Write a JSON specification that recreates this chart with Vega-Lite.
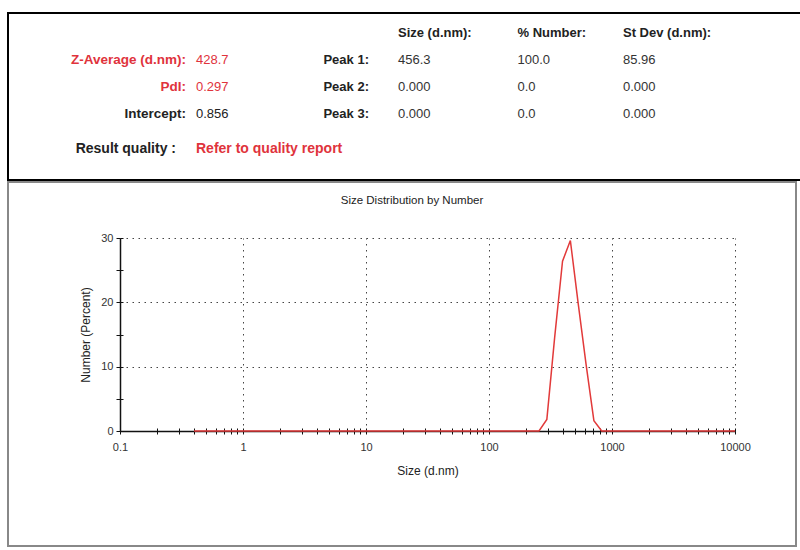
{
  "$schema": "https://vega.github.io/schema/vega-lite/v6.json",
  "padding": {"left": 7, "top": 12, "right": 0, "bottom": 0},
  "spacing": 0,
  "background": "white",
  "config": {"font": "Liberation Sans", "text": {"font": "Liberation Sans", "baseline": "middle"}},
  "datasets": {
    "columns": [
      {"col": "size", "title": "Size (d.nm):", "line": "header"},
      {"col": "number", "title": "% Number:", "line": "header"},
      {"col": "stdev", "title": "St Dev (d.nm):", "line": "header"}
    ],
    "peaks": [
      {"peak": "Peak 1:", "size": "456.3", "number": "100.0", "stdev": "85.96", "line": "1"},
      {"peak": "Peak 2:", "size": "0.000", "number": "0.0", "stdev": "0.000", "line": "2"},
      {"peak": "Peak 3:", "size": "0.000", "number": "0.0", "stdev": "0.000", "line": "3"}
    ],
    "summary": [
      {"label": "Z-Average (d.nm):", "value": "428.7", "flag": "warning", "line": "1"},
      {"label": "PdI:", "value": "0.297", "flag": "warning", "line": "2"},
      {"label": "Intercept:", "value": "0.856", "flag": "normal", "line": "3"}
    ],
    "quality": [
      {"label": "Result quality :", "value": "Refer to quality report", "line": "quality"}
    ],
    "distribution": [
      {"size": 0.4, "number": 0}, {"size": 0.4632, "number": 0}, {"size": 0.5365, "number": 0},
      {"size": 0.6213, "number": 0}, {"size": 0.7195, "number": 0}, {"size": 0.8332, "number": 0},
      {"size": 0.9649, "number": 0}, {"size": 1.117, "number": 0}, {"size": 1.294, "number": 0},
      {"size": 1.499, "number": 0}, {"size": 1.736, "number": 0}, {"size": 2.01, "number": 0},
      {"size": 2.328, "number": 0}, {"size": 2.696, "number": 0}, {"size": 3.122, "number": 0},
      {"size": 3.615, "number": 0}, {"size": 4.187, "number": 0}, {"size": 4.849, "number": 0},
      {"size": 5.615, "number": 0}, {"size": 6.503, "number": 0}, {"size": 7.531, "number": 0},
      {"size": 8.721, "number": 0}, {"size": 10.1, "number": 0}, {"size": 11.7, "number": 0},
      {"size": 13.54, "number": 0}, {"size": 15.69, "number": 0}, {"size": 18.17, "number": 0},
      {"size": 21.04, "number": 0}, {"size": 24.36, "number": 0}, {"size": 28.21, "number": 0},
      {"size": 32.67, "number": 0}, {"size": 37.84, "number": 0}, {"size": 43.82, "number": 0},
      {"size": 50.75, "number": 0}, {"size": 58.77, "number": 0}, {"size": 68.06, "number": 0},
      {"size": 78.82, "number": 0}, {"size": 91.28, "number": 0}, {"size": 105.7, "number": 0},
      {"size": 122.4, "number": 0}, {"size": 141.8, "number": 0}, {"size": 164.2, "number": 0},
      {"size": 190.1, "number": 0}, {"size": 220.2, "number": 0}, {"size": 255, "number": 0},
      {"size": 295.3, "number": 1.8}, {"size": 342, "number": 14.6}, {"size": 396.1, "number": 26.4},
      {"size": 458.7, "number": 29.6}, {"size": 531.2, "number": 19.8}, {"size": 615.1, "number": 10.4},
      {"size": 712.4, "number": 1.6}, {"size": 825, "number": 0}, {"size": 955.4, "number": 0},
      {"size": 1106, "number": 0}, {"size": 1281, "number": 0}, {"size": 1484, "number": 0},
      {"size": 1718, "number": 0}, {"size": 1990, "number": 0}, {"size": 2305, "number": 0},
      {"size": 2669, "number": 0}, {"size": 3091, "number": 0}, {"size": 3580, "number": 0},
      {"size": 4145, "number": 0}, {"size": 4801, "number": 0}, {"size": 5560, "number": 0},
      {"size": 6439, "number": 0}, {"size": 7456, "number": 0}, {"size": 8635, "number": 0},
      {"size": 10000, "number": 0}
    ]
  },
  "vconcat": [
    {
      "width": 800,
      "height": 167,
      "view": {"stroke": "#000000", "strokeWidth": 2},
      "encoding": {
        "y": {"field": "line", "type": "nominal", "axis": null,
              "scale": {"type": "point", "domain": ["header", "1", "2", "3", "quality"], "range": [20, 128], "padding": 0}}
      },
      "layer": [
        {
          "data": {"name": "columns"},
          "mark": {"type": "text", "align": "left", "fontWeight": "bold", "fontSize": 13, "color": "#222222",
                   "dx": {"expr": "datum.col === 'number' ? 7 : 0"}},
          "encoding": {
            "x": {"field": "col", "type": "nominal", "axis": null,
                  "scale": {"type": "point", "domain": ["size", "number", "stdev"], "range": [390, 615], "padding": 0}},
            "text": {"field": "title"}
          }
        },
        {
          "data": {"name": "peaks"},
          "transform": [{"fold": ["size", "number", "stdev"], "as": ["col", "val"]}],
          "mark": {"type": "text", "align": "left", "fontSize": 13, "color": "#333333",
                   "dx": {"expr": "datum.col === 'number' ? 7 : 0"}},
          "encoding": {
            "x": {"field": "col", "type": "nominal", "axis": null},
            "text": {"field": "val"}
          }
        },
        {
          "data": {"name": "peaks"},
          "mark": {"type": "text", "align": "right", "fontWeight": "bold", "fontSize": 13, "color": "#222222", "dx": -29},
          "encoding": {
            "x": {"datum": "size", "type": "nominal", "axis": null},
            "text": {"field": "peak"}
          }
        },
        {
          "data": {"name": "summary"},
          "mark": {"type": "text", "align": "right", "fontWeight": "bold", "fontSize": 13.5, "dx": -212},
          "encoding": {
            "x": {"datum": "size", "type": "nominal", "axis": null},
            "text": {"field": "label"},
            "color": {"field": "flag", "type": "nominal", "legend": null,
                      "scale": {"domain": ["warning", "normal"], "range": ["#e0333c", "#222222"]}}
          }
        },
        {
          "data": {"name": "summary"},
          "mark": {"type": "text", "align": "left", "fontSize": 13, "dx": -202},
          "encoding": {
            "x": {"datum": "size", "type": "nominal", "axis": null},
            "text": {"field": "value"},
            "color": {"field": "flag", "type": "nominal", "legend": null}
          }
        },
        {
          "data": {"name": "quality"},
          "mark": {"type": "text", "align": "right", "fontWeight": "bold", "fontSize": 14, "color": "#222222", "dx": -222, "dy": 8},
          "encoding": {
            "x": {"datum": "size", "type": "nominal", "axis": null},
            "text": {"field": "label"}
          }
        },
        {
          "data": {"name": "quality"},
          "mark": {"type": "text", "align": "left", "fontWeight": "bold", "fontSize": 14, "color": "#e0333c", "dx": -202, "dy": 8},
          "encoding": {
            "x": {"datum": "size", "type": "nominal", "axis": null},
            "text": {"field": "value"}
          }
        }
      ]
    },
    {
      "width": 788,
      "height": 364,
      "view": {"stroke": "#888888", "strokeWidth": 2},
      "title": {"text": "Size Distribution by Number", "fontSize": 11.5, "fontWeight": "normal", "color": "#222222", "offset": -24, "dx": 10},
      "data": {"name": "distribution"},
      "resolve": {"axis": {"x": "independent", "y": "independent"}},
      "layer": [
        {
          "mark": {"type": "line", "strokeOpacity": 0},
          "encoding": {
            "x": {
              "field": "size", "type": "quantitative",
              "scale": {"type": "log", "domain": [0.1, 10000], "range": [112, 727], "nice": false},
              "axis": {
                "orient": "top", "offset": 0,
                "values": [1, 10, 100, 1000, 10000],
                "grid": true, "gridDash": [1.5, 4.5], "gridColor": "#444444", "gridWidth": 1,
                "domain": false, "ticks": false, "labels": false, "title": null
              }
            },
            "y": {
              "field": "number", "type": "quantitative",
              "scale": {"domain": [0, 30], "range": [249, 56], "nice": false, "zero": false},
              "axis": null
            }
          }
        },
        {
          "mark": {"type": "line", "strokeOpacity": 0},
          "encoding": {
            "x": {
              "field": "size", "type": "quantitative",
              "axis": {
                "orient": "bottom", "offset": -115,
                "values": [0.1, 0.2, 0.3, 0.4, 0.5, 0.6, 0.7, 0.8, 0.9, 1, 2, 3, 4, 5, 6, 7, 8, 9, 10, 20, 30, 40, 50, 60, 70, 80, 90, 100, 200, 300, 400, 500, 600, 700, 800, 900, 1000, 2000, 3000, 4000, 5000, 6000, 7000, 8000, 9000, 10000],
                "grid": false, "domain": false, "labels": false, "title": null,
                "tickColor": "#111111", "tickSize": -3, "tickWidth": 1
              }
            },
            "y": {
              "field": "number", "type": "quantitative",
              "axis": {
                "orient": "left", "offset": -112,
                "values": [0, 5, 10, 15, 20, 25, 30],
                "grid": false, "domain": false, "labels": false, "title": null,
                "tickColor": "#111111", "tickSize": -3, "tickWidth": 1
              }
            }
          }
        },
        {
          "mark": {"type": "line", "color": "#e23a3a", "strokeWidth": 1.5, "clip": false},
          "encoding": {
            "x": {
              "field": "size", "type": "quantitative",
              "axis": {
                "orient": "bottom", "offset": -115,
                "values": [0.1, 0.2, 0.3, 0.4, 0.5, 0.6, 0.7, 0.8, 0.9, 1, 2, 3, 4, 5, 6, 7, 8, 9, 10, 20, 30, 40, 50, 60, 70, 80, 90, 100, 200, 300, 400, 500, 600, 700, 800, 900, 1000, 2000, 3000, 4000, 5000, 6000, 7000, 8000, 9000, 10000],
                "labelExpr": "indexof([0.1, 1, 10, 100, 1000, 10000], datum.value) >= 0 ? format(datum.value, '~g') : ''",
                "labelOverlap": false, "labelFlush": false,
                "grid": false,
                "domainColor": "#111111", "domainWidth": 1.5,
                "tickColor": "#111111", "tickSize": 3, "tickWidth": 1,
                "labelFontSize": 11, "labelColor": "#333333", "labelPadding": 7,
                "title": "Size (d.nm)", "titleFontSize": 12, "titleFontWeight": "normal", "titleColor": "#222222", "titlePadding": 13
              }
            },
            "y": {
              "field": "number", "type": "quantitative",
              "axis": {
                "orient": "left", "offset": -112,
                "values": [0, 5, 10, 15, 20, 25, 30],
                "labelExpr": "datum.value % 10 === 0 ? datum.label : ''",
                "grid": true, "gridDash": [1.5, 4.5], "gridColor": "#444444", "gridWidth": 1,
                "gridOpacity": {"condition": {"test": "datum.value % 10 === 0 && datum.value > 0", "value": 1}, "value": 0},
                "domainColor": "#111111", "domainWidth": 1.5,
                "tickColor": "#111111", "tickSize": 4, "tickWidth": 1,
                "labelFontSize": 11, "labelColor": "#333333", "labelPadding": 3,
                "title": "Number (Percent)", "titleFontSize": 12, "titleFontWeight": "normal", "titleColor": "#222222", "titlePadding": 8
              }
            }
          }
        }
      ]
    }
  ]
}
